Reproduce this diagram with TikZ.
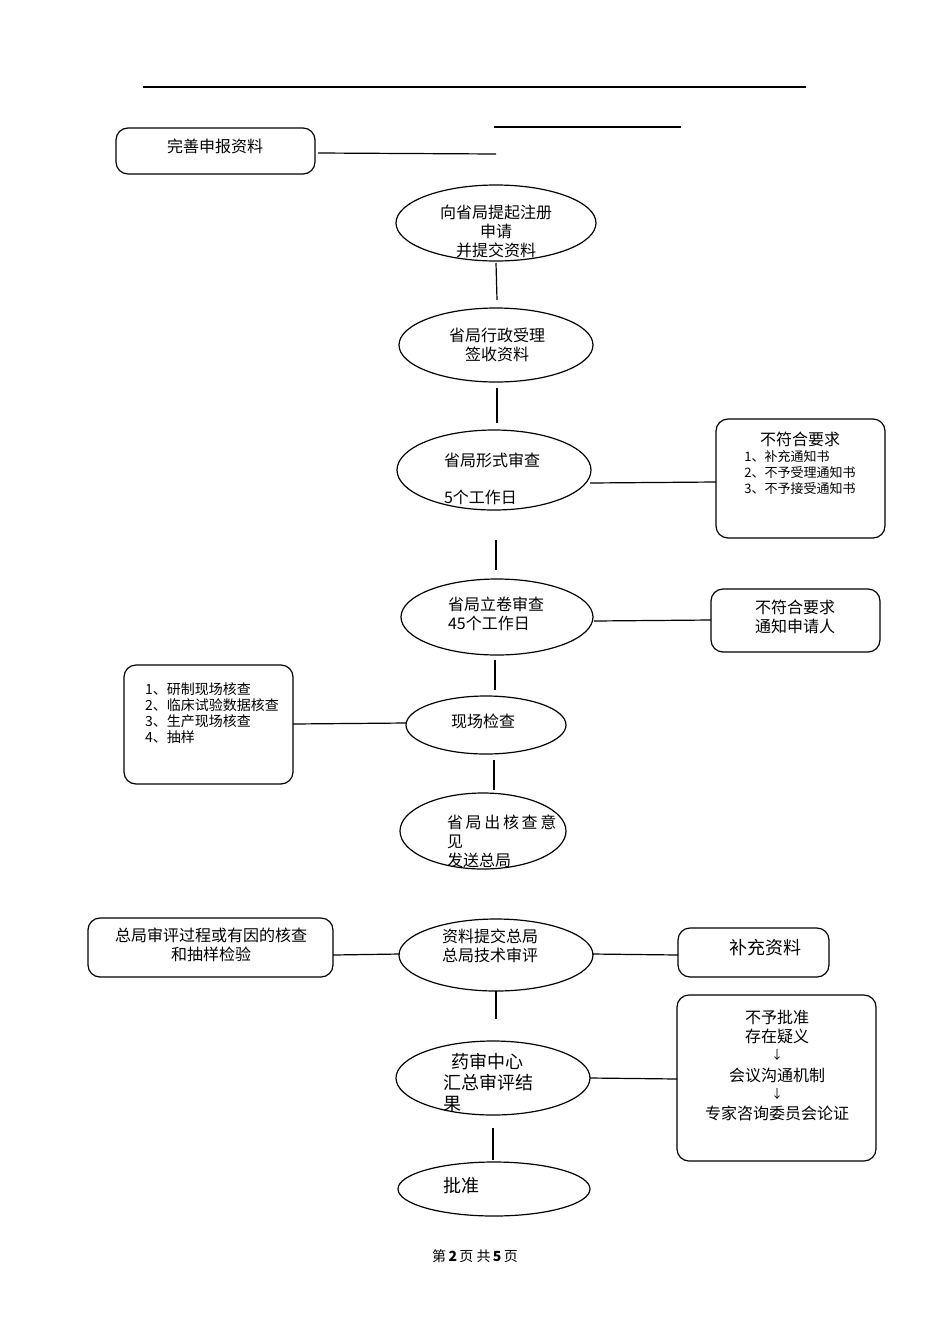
\documentclass[tikz,border=0pt]{standalone}
\usepackage{fontspec}
\setmainfont{Liberation Serif}
\newfontfamily\cjk{Noto Sans CJK SC}
\begin{document}
\begin{tikzpicture}[x=0.5pt,y=-0.5pt,
  every node/.style={font=\cjk\fontsize{8}{9.5}\selectfont},
  rbox/.style={draw,rounded corners=6pt,line width=0.6pt},
  arr/.style={font=\cjk\fontsize{6}{6}\selectfont,inner sep=0pt},
  ln/.style={line width=0.6pt}]
\useasboundingbox (0,0) rectangle (950,1344);
\draw[ln] (143,87) -- (806,87);
\draw[ln] (494,127) -- (681,127);
% box 0
\draw[rbox] (116,128) rectangle (315,174);
\node (b0) at (215,146) {完善申报资料};
\coordinate (b0r) at (318,153);
\coordinate (b0e) at (496,154);
\draw[ln] (b0r) -- (b0e);
% ellipses
\draw[ln] (496,223) ellipse [x radius=100,y radius=38];
\node[align=center] (e1) at (496,231) {向省局提起注册\\申请\\并提交资料};
\draw[ln] (496,263) -- (497,300);
\draw[ln] (496,345) ellipse [x radius=97,y radius=37];
\node[align=center] (e2) at (497,345) {省局行政受理\\签收资料};
\draw[ln] (497,388) -- (497,423);
\draw[ln] (494,470) ellipse [x radius=97,y radius=40];
\node[anchor=west] (e3a) at (437,460) {省局形式审查};
\node[anchor=west] (e3b) at (437,497) {5个工作日};
\draw[ln] (590,483) -- (716,482);
\draw[rbox] (716,419) rectangle (885,538);
\node (r3) at (800,439) {不符合要求};
\node[font=\cjk\fontsize{6.5}{8}\selectfont,align=left] (r3b) at (800,473) {1、补充通知书\\2、不予受理通知书\\3、不予接受通知书};
\draw[ln] (496,540) -- (496,570);
\draw[ln] (497,617) ellipse [x radius=96,y radius=38];
\node[anchor=west,align=left] (e4) at (441,614) {省局立卷审查\\45个工作日};
\draw[ln] (594,621) -- (711,620);
\draw[rbox] (711,589) rectangle (880,652);
\node[align=center] (r4) at (795,617) {不符合要求\\通知申请人};
\draw[ln] (495,660) -- (495,690);
\draw[ln] (486,725) ellipse [x radius=80,y radius=29];
\node[anchor=west] (e5) at (444,721) {现场检查};
\draw[rbox] (124,665) rectangle (293,784);
\node[anchor=north west,align=left,font=\cjk\fontsize{7}{8}\selectfont] (l5) at (138,676) {1、研制现场核查\\2、临床试验数据核查\\3、生产现场核查\\4、抽样};
\draw[ln] (293,724) -- (406,723);
\draw[ln] (494,760) -- (494,790);
\draw[ln] (483,831) ellipse [x radius=83,y radius=38];
\node[anchor=west,align=left] (e6) at (440,841) {省\,局\,出\,核\,查\,意\\见\\发送总局};
\draw[ln] (496,955) ellipse [x radius=97,y radius=36];
\node[align=center] (e7) at (490,946) {资料提交总局\\总局技术审评};
\draw[rbox] (88,918) rectangle (333,977);
\node[align=center] (l7) at (211,945) {总局审评过程或有因的核查\\和抽样检验};
\draw[ln] (333,955) -- (400,954);
\draw[rbox] (678,928) rectangle (829,977);
\node (r7) at (765,948) {\fontsize{9}{10}\selectfont 补充资料};
\draw[ln] (592,954) -- (678,955);
\draw[ln] (496,991) -- (496,1019);
\draw[ln] (493,1078) ellipse [x radius=97,y radius=37];
\node[anchor=west,align=left,font=\cjk\fontsize{9}{10.5}\selectfont] (e8) at (436,1083) {\ \ 药审中心\\汇总审评结\\果};
\draw[ln] (590,1078) -- (677,1079);
\draw[rbox] (677,995) rectangle (876,1161);
\node (r8a) at (777,1017) {不予批准};
\node (r8b) at (777,1036) {存在疑义};
\node[arr] (r8c) at (777,1055) {↓};
\node (r8d) at (777,1075) {会议沟通机制};
\node[arr] (r8e) at (777,1094) {↓};
\node (r8f) at (777,1113) {专家咨询委员会论证};
\draw[ln] (493,1128) -- (493,1160);
\draw[ln] (494,1189) ellipse [x radius=96,y radius=27];
\node[anchor=west,font=\cjk\fontsize{9}{10}\selectfont] (e9) at (436,1186) {批准};
\node[font=\cjk\fontsize{7}{8}\selectfont] (ft) at (475,1256) {第\,\textbf{2}\,页\ 共\,\textbf{5}\,页};
\end{tikzpicture}
\end{document}
